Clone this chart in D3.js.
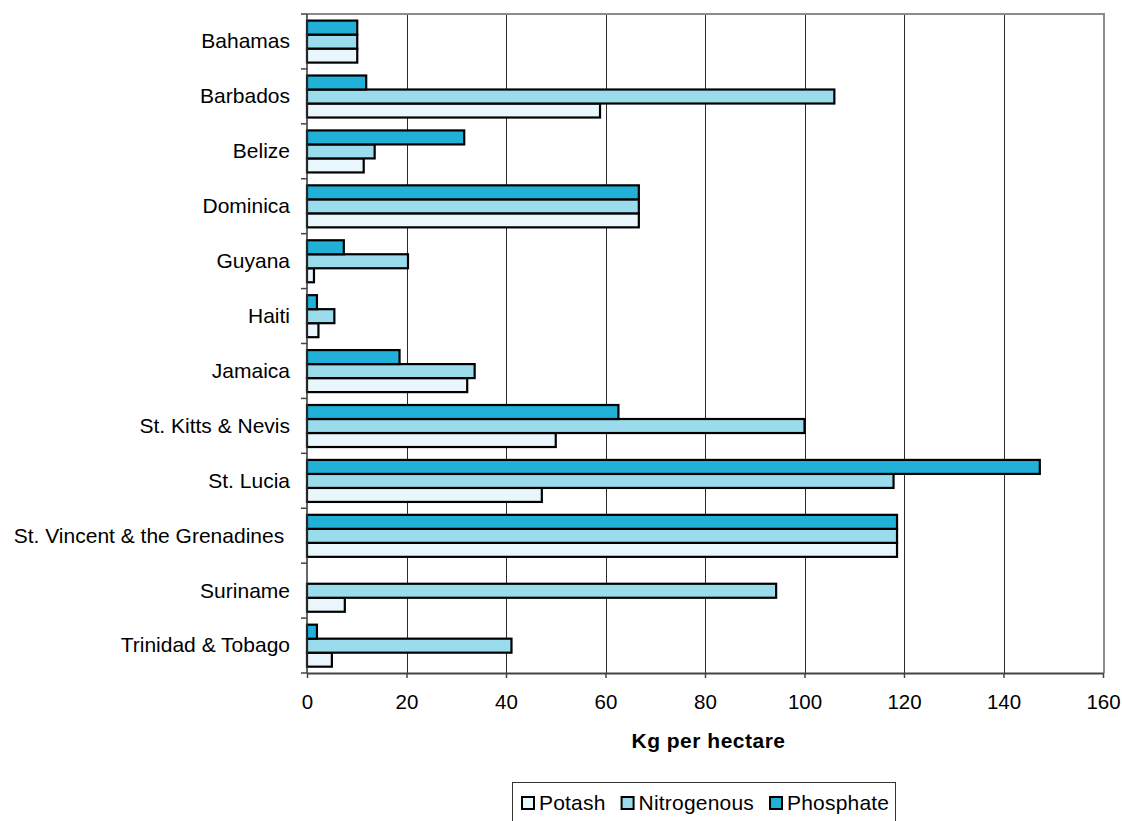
<!DOCTYPE html>
<html>
<head>
<meta charset="utf-8">
<script src="https://cdn.jsdelivr.net/npm/d3@7"></script>
<style>
  html, body { margin: 0; padding: 0; background: #fff; }
  svg { display: block; font-family: "Liberation Sans", Arial, sans-serif; }
</style>
</head>
<body>
<svg id="chart" width="1122" height="821"></svg>
<script>
// Fertilizer use by country, kg per hectare of arable land
const countries = [
  "Bahamas", "Barbados", "Belize", "Dominica", "Guyana", "Haiti", "Jamaica",
  "St. Kitts & Nevis", "St. Lucia", "St. Vincent & the Grenadines ", "Suriname",
  "Trinidad & Tobago"
];
const potash      = [10.1, 58.9, 11.4, 66.7, 1.4, 2.3, 32.2, 50.0, 47.2, 118.6, 7.6, 5.0];
const nitrogenous = [10.1, 106.0, 13.6, 66.7, 20.3, 5.5, 33.7, 100.0, 117.9, 118.6, 94.3, 41.1];
const phosphate   = [10.1, 11.9, 31.6, 66.7, 7.4, 2.0, 18.6, 62.6, 147.3, 118.6, 0, 2.0];
const seriesNames = ["Potash", "Nitrogenous", "Phosphate"];
const seriesColors = ["#e9f6fb", "#9adbec", "#20b0d8"];
const xTicks = [0, 20, 40, 60, 80, 100, 120, 140, 160];
const xTitle = "Kg per hectare";

const svg = d3.select("#chart");
const plot = { left: 307, right: 1104, top: 14, bottom: 673 };

const seriesValues = { Potash: potash, Nitrogenous: nitrogenous, Phosphate: phosphate };
const rows = countries.map((c, i) => ({
  country: c,
  values: seriesNames.map(s => ({ series: s, value: seriesValues[s][i] }))
}));

const x = d3.scaleLinear().domain([0, 160]).range([plot.left, plot.right - 1]);
const y0 = d3.scaleBand().domain(countries).range([plot.top, plot.bottom]).padding(0);
// bars stack top-to-bottom: Phosphate, Nitrogenous, Potash
const y1 = d3.scaleBand()
  .domain(["Phosphate", "Nitrogenous", "Potash"])
  .range([y0.step() * 0.12, y0.step() * 0.885])
  .padding(0);
const color = d3.scaleOrdinal().domain(seriesNames).range(seriesColors);

// vertical grid lines
svg.append("g")
  .selectAll("line")
  .data(xTicks.slice(1, -1))
  .join("line")
  .attr("x1", d => Math.round(x(d)) + 0.5)
  .attr("x2", d => Math.round(x(d)) + 0.5)
  .attr("y1", plot.top)
  .attr("y2", plot.bottom)
  .attr("stroke", "#2a2a2a")
  .attr("stroke-width", 1);

// plot frame, top and right
svg.append("path")
  .attr("d", `M${plot.left},${plot.top} H${plot.right} V${plot.bottom}`)
  .attr("fill", "none")
  .attr("stroke", "#8a8a8a")
  .attr("stroke-width", 2);

// bars
const groups = svg.append("g")
  .selectAll("g")
  .data(rows)
  .join("g")
  .attr("transform", d => `translate(0,${y0(d.country)})`);

groups.selectAll("rect")
  .data(d => d.values.filter(v => v.value > 0))
  .join("rect")
  .attr("x", x(0))
  .attr("y", d => y1(d.series))
  .attr("width", d => x(d.value) - x(0))
  .attr("height", y1.bandwidth())
  .attr("fill", d => color(d.series))
  .attr("stroke", "#000")
  .attr("stroke-width", 2.2);

// x axis
const xAxis = d3.axisBottom(x).tickValues(xTicks).tickSize(5).tickSizeOuter(0).tickPadding(16);
const gx = svg.append("g")
  .attr("transform", `translate(0,${plot.bottom})`)
  .call(xAxis);
gx.select(".domain").attr("stroke", "#444").attr("stroke-width", 2);
gx.selectAll(".tick line").attr("stroke", "#444").attr("stroke-width", 1.5);
gx.selectAll(".tick text")
  .attr("font-size", 20.5)
  .attr("fill", "#000")
  .attr("font-family", "Liberation Sans, Arial, sans-serif");

// y axis: ticks at category boundaries
const boundaries = countries.map(c => y0(c)).concat([plot.bottom]);
const gy = svg.append("g");
gy.append("line")
  .attr("x1", plot.left).attr("x2", plot.left)
  .attr("y1", plot.top).attr("y2", plot.bottom)
  .attr("stroke", "#333").attr("stroke-width", 1.5);
gy.selectAll("line.tick")
  .data(boundaries)
  .join("line")
  .attr("class", "tick")
  .attr("x1", plot.left - 6).attr("x2", plot.left)
  .attr("y1", d => d).attr("y2", d => d)
  .attr("stroke", "#444").attr("stroke-width", 1.5);
gy.selectAll("text")
  .data(countries)
  .join("text")
  .attr("x", 290)
  .attr("y", d => y0(d) + y0.bandwidth() / 2)
  .attr("dy", "0.33em")
  .attr("text-anchor", "end")
  .attr("font-size", 21)
  .style("white-space", "pre")
  .attr("fill", "#000")
  .text(d => d);

// axis title
svg.append("text")
  .attr("x", (plot.left + plot.right) / 2 + 3)
  .attr("y", 748)
  .attr("text-anchor", "middle")
  .attr("font-size", 21)
  .attr("font-weight", "bold")
  .attr("letter-spacing", 0.5)
  .text(xTitle);

// legend
const legend = svg.append("g").attr("transform", "translate(512,782)");
legend.append("rect")
  .attr("x", 0.5).attr("y", 0.5)
  .attr("width", 383).attr("height", 60)
  .attr("fill", "#fff")
  .attr("stroke", "#333").attr("stroke-width", 1);
let lx = 10;
seriesNames.forEach(name => {
  const item = legend.append("g").attr("transform", `translate(${lx},0)`);
  item.append("rect")
    .attr("x", 0).attr("y", 15)
    .attr("width", 12).attr("height", 12)
    .attr("fill", color(name))
    .attr("stroke", "#000").attr("stroke-width", 2);
  const t = item.append("text")
    .attr("x", 17).attr("y", 28)
    .attr("font-size", 21)
    .attr("letter-spacing", 0.2)
    .attr("fill", "#000")
    .text(name);
  lx += 17 + t.node().getComputedTextLength() + 16;
});
</script>
</body>
</html>
